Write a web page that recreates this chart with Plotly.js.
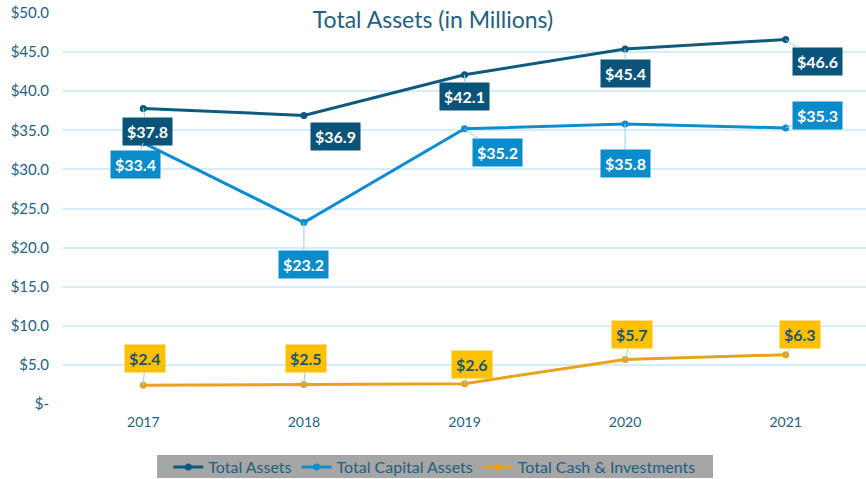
<!DOCTYPE html>
<html>
<head>
<meta charset="utf-8">
<script src="https://cdn.plot.ly/plotly-3.0.1.min.js"></script>
<style>html,body{margin:0;padding:0;background:#fff}#chart{width:866px;height:479px}</style>
</head>
<body>
<div id="chart"></div>
<script>
const years = ['2017', '2018', '2019', '2020', '2021'];
const totalAssets = [37.8, 36.9, 42.1, 45.4, 46.6];
const capitalAssets = [33.4, 23.2, 35.2, 35.8, 35.3];
const cashInvestments = [2.4, 2.5, 2.6, 5.7, 6.3];
const seriesNames = ['Total Assets', 'Total Capital Assets', 'Total Cash & Investments'];
const yTickVals = [0, 5, 10, 15, 20, 25, 30, 35, 40, 45, 50];
const yTickText = ['$-', '$5.0', '$10.0', '$15.0', '$20.0', '$25.0', '$30.0', '$35.0', '$40.0', '$45.0', '$50.0'];

const colors = ['#0E5A7E', '#0D8DCF', '#E9A21C'];
const boxColors = ['#0A5479', '#0A8CCC', '#FFC000'];
const textColors = ['#FFFFFF', '#FFFFFF', '#1A5578'];
const dataSets = [totalAssets, capitalAssets, cashInvestments];

// label offsets (pixels) for each series/point
const offsets = [
  [[4, 23], [32, 21], [0, 22], [0, 25], [32, 22]],
  [[-8, 22], [0, 42], [33, 24], [0, 39], [32, -12]],
  [[2, -27], [2, -26], [7, -19], [7, -25], [14, -20]]
];

const traces = dataSets.map((d, i) => ({
  x: years, y: d, name: seriesNames[i], type: 'scatter', mode: 'lines+markers',
  line: {color: colors[i], width: 3}, marker: {color: colors[i], size: 7}
}));

const annotations = [];
dataSets.forEach((d, i) => {
  d.forEach((v, j) => {
    annotations.push({
      x: j, y: v, xref: 'x', yref: 'y',
      text: '<b>$' + v.toFixed(1) + '</b>',
      showarrow: true, arrowhead: 0, arrowwidth: 1, arrowcolor: '#8ED3F0', standoff: 0,
      ax: offsets[i][j][0], ay: offsets[i][j][1],
      bgcolor: boxColors[i], borderpad: 4,
      font: {family: 'Lato, "Open Sans", sans-serif', size: 16, color: textColors[i]}
    });
  });
});

const layout = {
  width: 866, height: 479,
  margin: {l: 63, r: 0, t: 13, b: 75, autoexpand: false},
  paper_bgcolor: '#fff', plot_bgcolor: '#fff',
  font: {family: 'Lato, "Open Sans", sans-serif', color: '#1F5F80'},
  title: {text: 'Total Assets (in Millions)', x: 0.5, xref: 'container', y: 1 - 20 / 479, yanchor: 'middle', yref: 'container',
          font: {size: 23, color: '#1F5F80', family: 'Lato, "Open Sans", sans-serif'}},
  xaxis: {type: 'category', range: [-0.5, 4.5], showgrid: false, zeroline: false, showline: false,
          ticks: '', tickfont: {size: 14, color: '#1F5F80'}, ticklabelstandoff: 8, fixedrange: true},
  yaxis: {range: [0, 50], tickvals: yTickVals, ticktext: yTickText, showgrid: true, gridcolor: '#D3EEF9', gridwidth: 2,
          zeroline: false, showline: false, ticks: '', tickfont: {size: 15, color: '#1F5F80'}, ticklabelstandoff: 13, fixedrange: true},
  showlegend: true,
  legend: {orientation: 'h', x: 0.463, xanchor: 'center', y: (404 - 467) / 391, yanchor: 'middle',
           bgcolor: 'rgba(0,0,0,0)', font: {size: 16, color: '#1F5F80'}, itemwidth: 30, traceorder: 'normal'},
  shapes: [{type: 'rect', xref: 'paper', yref: 'paper', x0: (157 - 63) / 803, x1: (713 - 63) / 803,
            y0: (404 - 478) / 391, y1: (404 - 455) / 391, fillcolor: '#A6A6A6', line: {width: 0}, layer: 'below'}],
  annotations: annotations
};

Plotly.newPlot('chart', traces, layout, {displayModeBar: false, staticPlot: true});
</script>
</body>
</html>
